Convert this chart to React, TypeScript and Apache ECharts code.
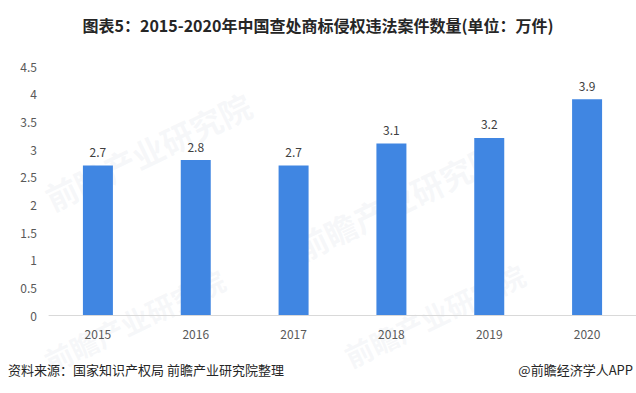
import React, { useEffect, useRef } from "react";
import * as echarts from "echarts";

const categories = ["2015", "2016", "2017", "2018", "2019", "2020"];
const values = [2.7, 2.8, 2.7, 3.1, 3.2, 3.9];
const titleText = "图表5：2015-2020年中国查处商标侵权违法案件数量(单位：万件)";
const sourceText = "资料来源：国家知识产权局 前瞻产业研究院整理";
const brandText = "@前瞻经济学人APP";

export default function App() {
  const ref = useRef<HTMLDivElement>(null);
  useEffect(() => {
    if (!ref.current) return;
    const chart = echarts.init(ref.current, null, { renderer: "svg" });
    const font = "'Microsoft YaHei', 'Noto Sans CJK SC', sans-serif";
    const wm = (x: number, y: number, size: number) => ({
      type: "text",
      x,
      y,
      rotation: Math.PI / 7,
      z: -1,
      style: {
        text: "前瞻产业研究院",
        fill: "rgba(200,208,218,0.17)",
        font: `bold ${size}px ${font}`,
      },
    });
    chart.setOption({
      animation: false,
      textStyle: { fontFamily: font },
      title: {
        text: titleText,
        left: "center",
        top: 12,
        textStyle: { fontSize: 16, fontWeight: "bold", color: "#262626", fontFamily: font },
      },
      grid: { left: 49, right: 0, top: 66, bottom: 78, containLabel: false },
      xAxis: {
        type: "category",
        data: categories,
        axisLine: { show: true, lineStyle: { color: "#d9d9d9", width: 1 } },
        axisTick: { show: false },
        axisLabel: { color: "#595959", fontSize: 12, margin: 12 },
      },
      yAxis: {
        type: "value",
        min: 0,
        max: 4.5,
        interval: 0.5,
        axisLine: { show: false },
        axisTick: { show: false },
        splitLine: { show: false },
        axisLabel: { color: "#595959", fontSize: 12, margin: 12 },
      },
      series: [
        {
          type: "bar",
          data: values,
          barWidth: 30,
          itemStyle: { color: "#4086E2" },
          label: {
            show: true,
            position: "top",
            distance: 8,
            color: "#404040",
            fontSize: 12,
          },
        },
      ],
      graphic: [
        wm(40, 185, 32),
        wm(290, 235, 32),
        wm(40, 350, 28),
        wm(340, 345, 28),
        {
          type: "text",
          left: 8,
          top: 363,
          style: { text: sourceText, fill: "#262626", font: `13px ${font}` },
        },
        {
          type: "text",
          right: 3,
          top: 363,
          style: { text: brandText, fill: "#262626", font: `13px ${font}` },
        },
      ],
    });
    return () => chart.dispose();
  }, []);
  return <div ref={ref} style={{ width: 636, height: 393, position: "absolute", left: 0, top: 0 }} />;
}
